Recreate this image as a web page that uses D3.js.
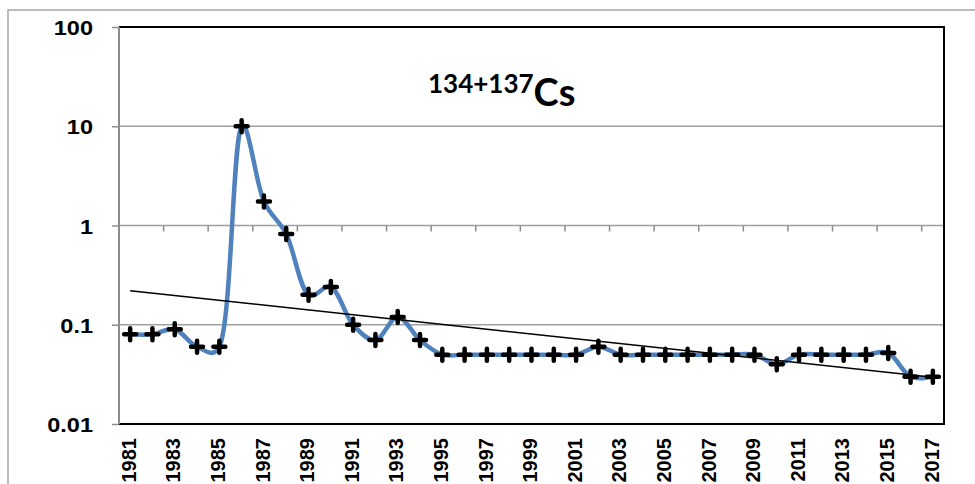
<!DOCTYPE html>
<html lang="en">
<head>
<meta charset="UTF-8">
<title>134+137Cs</title>
<style>
    body { margin: 0; background: #fff; }
    svg { display: block; }
    .lbl { font-family: 'Liberation Sans', Arial, sans-serif; font-weight: bold; font-size: 21px; fill: #000; }
    .xl { font-size: 20px; }
    .ttl { font-family: Lato, 'Open Sans', sans-serif; font-weight: bold; fill: #000; }
</style>
</head>
<body>
<div id="chart"></div>
<script src="https://d3js.org/d3.v7.min.js"></script>
<script>
    // years and measured values (log scale)
    const years = [1981, 1982, 1983, 1984, 1985, 1986, 1987, 1988, 1989, 1990,
                   1991, 1992, 1993, 1994, 1995, 1996, 1997, 1998, 1999, 2000,
                   2001, 2002, 2003, 2004, 2005, 2006, 2007, 2008, 2009, 2010,
                   2011, 2012, 2013, 2014, 2015, 2016, 2017];
    const values = [0.08, 0.08, 0.09, 0.06, 0.06, 10, 1.75, 0.82, 0.2, 0.24,
                    0.1, 0.07, 0.12, 0.07, 0.05, 0.05, 0.05, 0.05, 0.05, 0.05,
                    0.05, 0.06, 0.05, 0.05, 0.05, 0.05, 0.05, 0.05, 0.05, 0.04,
                    0.05, 0.05, 0.05, 0.05, 0.052, 0.03, 0.03];
    const yTicks = [0.01, 0.1, 1, 10, 100];
    const yTickLabels = ["0.01", "0.1", "1", "10", "100"];

    const width = 975, height = 484;
    const plotL = 119, plotR = 944, plotT = 27, plotB = 424;

    const svg = d3.select("#chart").append("svg")
        .attr("width", width).attr("height", height);

    // outer chart border (only top & left visible)
    svg.append("path")
        .attr("d", `M8,${height} V10 H${width}`)
        .attr("fill", "none").attr("stroke", "#a6a6a6").attr("stroke-width", 1.5);

    const x = d3.scaleBand().domain(years).range([plotL, plotR]);
    const y = d3.scaleLog().domain([0.01, 100]).range([plotB, plotT]);
    const cx = d => x(d) + x.bandwidth() / 2;

    // gridlines
    svg.append("g").selectAll("line")
        .data([0.1, 1, 10])
        .join("line")
        .attr("x1", plotL).attr("x2", plotR)
        .attr("y1", d => y(d)).attr("y2", d => y(d))
        .attr("stroke", "#a0a0a0").attr("stroke-width", 1.5);

    // plot area border: top, right, bottom black
    svg.append("path")
        .attr("d", `M${plotL},${y(100)} H${plotR} V${plotB} H${plotL}`)
        .attr("fill", "none").attr("stroke", "#000").attr("stroke-width", 2);

    // y axis
    const yAxis = svg.append("g")
        .attr("transform", `translate(${plotL},0)`)
        .call(d3.axisLeft(y).tickValues(yTicks).tickSize(7).tickPadding(18)
            .tickFormat((d, i) => yTickLabels[i]));
    yAxis.attr("font-size", null).attr("font-family", null);
    yAxis.select(".domain").attr("stroke", "#8c8c8c").attr("stroke-width", 2)
        .attr("d", `M0,${plotT}V${plotB}`);
    yAxis.selectAll(".tick line").attr("stroke", "#8c8c8c").attr("stroke-width", 1.5);
    yAxis.selectAll(".tick text").attr("class", "lbl")
        .attr("x", 0).attr("dy", "0.36em")
        .attr("transform", "translate(-26,0) scale(1.12,1)");

    // category axis crossing at 1: ticks every 2 categories
    const xAxisY = y(1);
    const tickIdx = d3.range(2, years.length, 2);
    svg.append("g").selectAll("line")
        .data(tickIdx)
        .join("line")
        .attr("x1", i => plotL + i * x.step()).attr("x2", i => plotL + i * x.step())
        .attr("y1", xAxisY).attr("y2", xAxisY + 6)
        .attr("stroke", "#8c8c8c").attr("stroke-width", 1.5);

    // x labels (every other year) rotated
    svg.append("g").selectAll("text")
        .data(years.filter((d, i) => i % 2 === 0))
        .join("text")
        .attr("class", "lbl xl")
        .attr("transform", d => `translate(${cx(d) - 1.5},438) rotate(-90)`)
        .attr("text-anchor", "end")
        .attr("dy", "0.36em")
        .text(d => d);

    // exponential trendline (least squares on ln y)
    const xs = years.map((d, i) => i + 1);
    const ls = values.map(v => Math.log(v));
    const mx = d3.mean(xs), ml = d3.mean(ls);
    const slope = d3.sum(xs, (v, i) => (v - mx) * (ls[i] - ml)) / d3.sum(xs, v => (v - mx) ** 2);
    const icpt = ml - slope * mx;
    const trend = [0, years.length - 1].map(i => [cx(years[i]), y(Math.exp(icpt + slope * (i + 1)))]);

    // data line (smoothed)
    const line = d3.line()
        .x((d, i) => cx(years[i]))
        .y(d => y(d))
        .curve(d3.curveCatmullRom.alpha(0.3));
    svg.append("path")
        .datum(values)
        .attr("d", line)
        .attr("fill", "none")
        .attr("stroke", "#4f81bd")
        .attr("stroke-width", 4.5)
        .attr("stroke-linejoin", "round");

    svg.append("path")
        .attr("d", d3.line()(trend))
        .attr("stroke", "#000").attr("stroke-width", 1.5);

    // plus markers
    svg.append("g").selectAll("path")
        .data(values)
        .join("path")
        .attr("transform", (d, i) => `translate(${cx(years[i])},${y(d)})`)
        .attr("d", "M-6,0H6M0,-6V6")
        .attr("stroke", "#000").attr("stroke-width", 4.5)
        .attr("stroke-linecap", "round");

    // title
    const title = svg.append("text").attr("class", "ttl").attr("x", 428).attr("y", 106);
    title.append("tspan").attr("font-size", 26).attr("dy", -13).text("134+137");
    title.append("tspan").attr("font-size", 38).attr("dy", 13).text("Cs");
</script>
</body>
</html>
